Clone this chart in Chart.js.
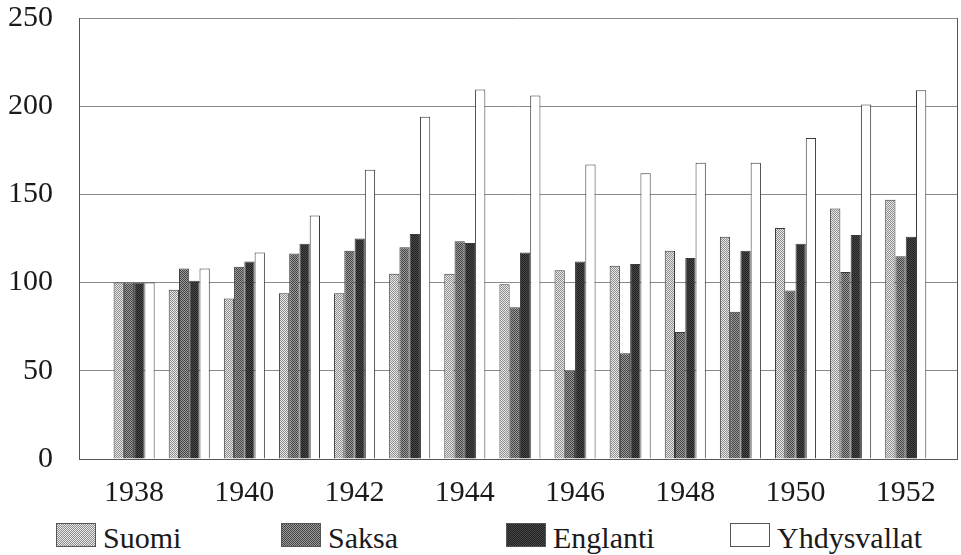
<!DOCTYPE html>
<html><head><meta charset="utf-8">
<script src="https://cdn.jsdelivr.net/npm/chart.js@4"></script>
<style>
html,body{margin:0;padding:0;background:#fff;}
#wrap{position:relative;width:961px;height:555px;overflow:hidden;}
#c{position:absolute;left:0;top:0;}
#legend{position:absolute;left:0;top:523px;width:961px;height:30px;font-family:"Liberation Serif",serif;font-size:30px;line-height:30px;color:#1a1a1a;}
.item{position:absolute;top:0;display:flex;align-items:flex-start;white-space:nowrap;}
.item canvas{display:block;margin-right:7px;}
</style></head><body>
<div id="wrap"><canvas id="c" width="961" height="515"></canvas><div id="legend"></div></div>
<script>
const years = [1938,1939,1940,1941,1942,1943,1944,1945,1946,1947,1948,1949,1950,1951,1952];
const xTickLabels = [1938,1940,1942,1944,1946,1948,1950,1952];
const yTicks = [0,50,100,150,200,250];
const seriesNames = ['Suomi','Saksa','Englanti','Yhdysvallat'];
const suomi = [100,96,91,94,94,105,105,99,107,109.5,118,126,131,142,147];
const saksa = [100,108,109,116.5,118,120,123.5,86,50,60,72,83.5,95.5,106,115];
const englanti = [100,101,112,122,125,127.5,122.5,117,112,110.5,114,118,122,127,126];
const yhdysvallat = [100,108,117,138,164,194,209.5,206,167,162,168,168,182,201,209];

function makePattern(base, dot) {
  const t = document.createElement('canvas');
  t.width = 4; t.height = 4;
  const g = t.getContext('2d');
  g.fillStyle = base; g.fillRect(0,0,4,4);
  g.fillStyle = dot;
  g.fillRect(0,0,1,1); g.fillRect(2,0,1,1); g.fillRect(1,1,1,1); g.fillRect(3,1,1,1);
  g.fillRect(0,2,1,1); g.fillRect(2,2,1,1); g.fillRect(1,3,1,1); g.fillRect(3,3,1,1);
  return document.getElementById('c').getContext('2d').createPattern(t, 'repeat');
}
const fills = [
  makePattern('#e8e8e8', '#8e8e8e'),
  makePattern('#9a9a9a', '#444444'),
  makePattern('#484848', '#222222'),
  '#ffffff'
];
const seriesData = [suomi, saksa, englanti, yhdysvallat];
const edge = '#3a3a3a';
const serif = '"Liberation Serif", "Times New Roman", serif';

const frame = {
  id: 'frame',
  afterDatasetsDraw(chart) {
    const {ctx, chartArea: a} = chart;
    ctx.save();
    ctx.strokeStyle = '#555';
    ctx.lineWidth = 1;
    ctx.beginPath();
    ctx.moveTo(Math.round(a.right) + 0.5, a.top);
    ctx.lineTo(Math.round(a.right) + 0.5, a.bottom);
    ctx.stroke();
    ctx.restore();
  }
};

new Chart(document.getElementById('c'), {
  type: 'bar',
  data: {
    labels: years,
    datasets: seriesNames.map((n, i) => ({
      label: n,
      data: seriesData[i],
      backgroundColor: fills[i],
      borderColor: edge,
      borderWidth: 1,
      categoryPercentage: 0.745,
      barPercentage: 1.0
    }))
  },
  options: {
    responsive: false,
    animation: false,
    layout: {padding: {left: 8, right: 4, top: 0, bottom: 4}},
    plugins: {legend: {display: false}, tooltip: {enabled: false}},
    scales: {
      x: {
        type: 'linear',
        offset: false,
        min: 1937,
        max: 1952.93,
        afterBuildTicks: s => { s.ticks = xTickLabels.map(v => ({value: v})); },
        afterFit: s => { s.paddingLeft = 0; s.paddingRight = 0; s.height = 52; },
        grid: {display: false, drawTicks: false},
        border: {display: true, color: '#555'},
        ticks: {padding: 16, color: '#1a1a1a', font: {family: serif, size: 30}, callback: v => String(v), maxRotation: 0, autoSkip: false}
      },
      y: {
        min: 0,
        max: 250,
        afterBuildTicks: s => { s.ticks = yTicks.map(v => ({value: v})); },
        afterFit: s => { s.paddingTop = 18; s.paddingBottom = 18; s.width = 71; },
        grid: {color: '#8a8a8a', lineWidth: 1, drawTicks: false},
        border: {display: true, color: '#555'},
        ticks: {padding: 26, color: '#1a1a1a', font: {family: serif, size: 30}, callback: v => String(v)}
      }
    }
  },
  plugins: [frame]
});

const legend = document.getElementById('legend');
const lefts = [56, 281, 506, 730];
seriesNames.forEach((n, i) => {
  const item = document.createElement('div');
  item.className = 'item';
  item.style.left = lefts[i] + 'px';
  const sw = document.createElement('canvas');
  sw.width = 40; sw.height = 24;
  const g = sw.getContext('2d');
  g.fillStyle = fills[i];
  g.fillRect(0, 0, 40, 24);
  g.strokeStyle = '#555';
  g.lineWidth = 1;
  g.strokeRect(0.5, 0.5, 39, 23);
  const tx = document.createElement('span');
  tx.textContent = n;
  item.appendChild(sw);
  item.appendChild(tx);
  legend.appendChild(item);
});
</script>
</body></html>
